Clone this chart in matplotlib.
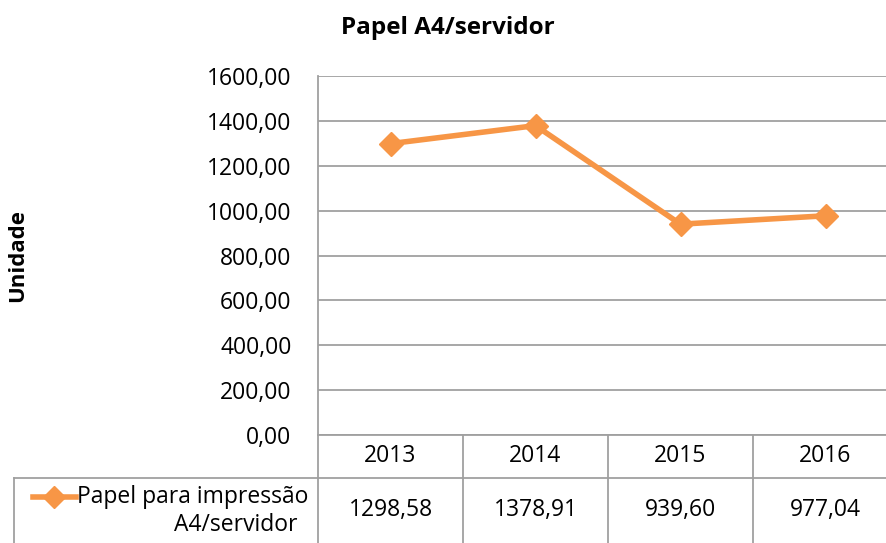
import matplotlib.pyplot as plt
from matplotlib.lines import Line2D
from matplotlib.transforms import blended_transform_factory

plt.rcParams['font.family'] = ['Open Sans', 'DejaVu Sans']

# data
years = ['2013', '2014', '2015', '2016']
values = [1298.58, 1378.91, 939.60, 977.04]
value_labels = ['1298,58', '1378,91', '939,60', '977,04']
yticks = [0, 200, 400, 600, 800, 1000, 1200, 1400, 1600]
series_name = ['Papel para impressão', 'A4/servidor']

orange = '#F79646'
grid_c = '#A0A0A0'
W, H = 886, 543
fs = 16.5

fig = plt.figure(figsize=(W / 100, H / 100), dpi=100)
# plot area (right edge runs past the image edge, like the cropped original)
ax = fig.add_axes([318 / W, 1 - 435 / H, (898 - 318) / W, (435 - 76) / H])

xs = [i + 0.5 for i in range(len(years))]
ax.plot(xs, values, color=orange, lw=4, marker='D', ms=12, zorder=3)

ax.set_xlim(0, 4)
ax.set_ylim(0, 1600)
ax.set_yticks(yticks)
ax.set_yticklabels(['%d,00' % v for v in yticks], fontsize=fs)
ax.tick_params(axis='y', length=0, pad=19)
ax.set_xticks([])
for y in yticks:
    ax.axhline(y, color=grid_c, lw=1.3, zorder=1)
for s in ['top', 'right', 'bottom']:
    ax.spines[s].set_visible(False)
ax.spines['left'].set_color(grid_c)
ax.spines['left'].set_linewidth(1.3)

fig.text(448 / W, 1 - 28 / H, 'Papel A4/servidor', ha='center', va='center',
         fontsize=17.5, fontweight='bold')
fig.text(18 / W, 1 - 255 / H, 'Unidade', ha='center', va='center',
         rotation=90, fontsize=fs - 0.5, fontweight='bold')

# data table below the axis
tr = blended_transform_factory(ax.transData, fig.transFigure)
ff = fig.transFigure
y0, y1, y2 = 1 - 435 / H, 1 - 478 / H, 0.0
fig.add_artist(Line2D([318 / W, 1], [y0, y0], color=grid_c, lw=1.3, transform=ff))
fig.add_artist(Line2D([14 / W, 1], [y1, y1], color=grid_c, lw=1.3, transform=ff))
fig.add_artist(Line2D([318 / W, 318 / W], [y0, y2], color=grid_c, lw=1.3, transform=ff))
fig.add_artist(Line2D([14 / W, 14 / W], [y1, y2], color=grid_c, lw=1.3, transform=ff))
for i in range(1, len(years)):
    fig.add_artist(Line2D([i, i], [y0, y2], color=grid_c, lw=1.3, transform=tr))

for x, yr, lab in zip(xs, years, value_labels):
    fig.text(x, 1 - 456 / H, yr, ha='center', va='center', fontsize=fs, transform=tr)
    fig.text(x, 1 - 510 / H, lab, ha='center', va='center', fontsize=fs, transform=tr)

# legend key inside the table
fig.add_artist(Line2D([33 / W, 76 / W], [1 - 497 / H] * 2, color=orange, lw=4,
                      transform=ff))
fig.add_artist(Line2D([54 / W], [1 - 497 / H], color=orange, marker='D', ms=11,
                      transform=ff))
fig.text(308 / W, 1 - 497 / H, series_name[0], ha='right', va='center', fontsize=fs)
fig.text(297 / W, 1 - 525 / H, series_name[1], ha='right', va='center', fontsize=fs)

fig.savefig('out.png', dpi=100)
